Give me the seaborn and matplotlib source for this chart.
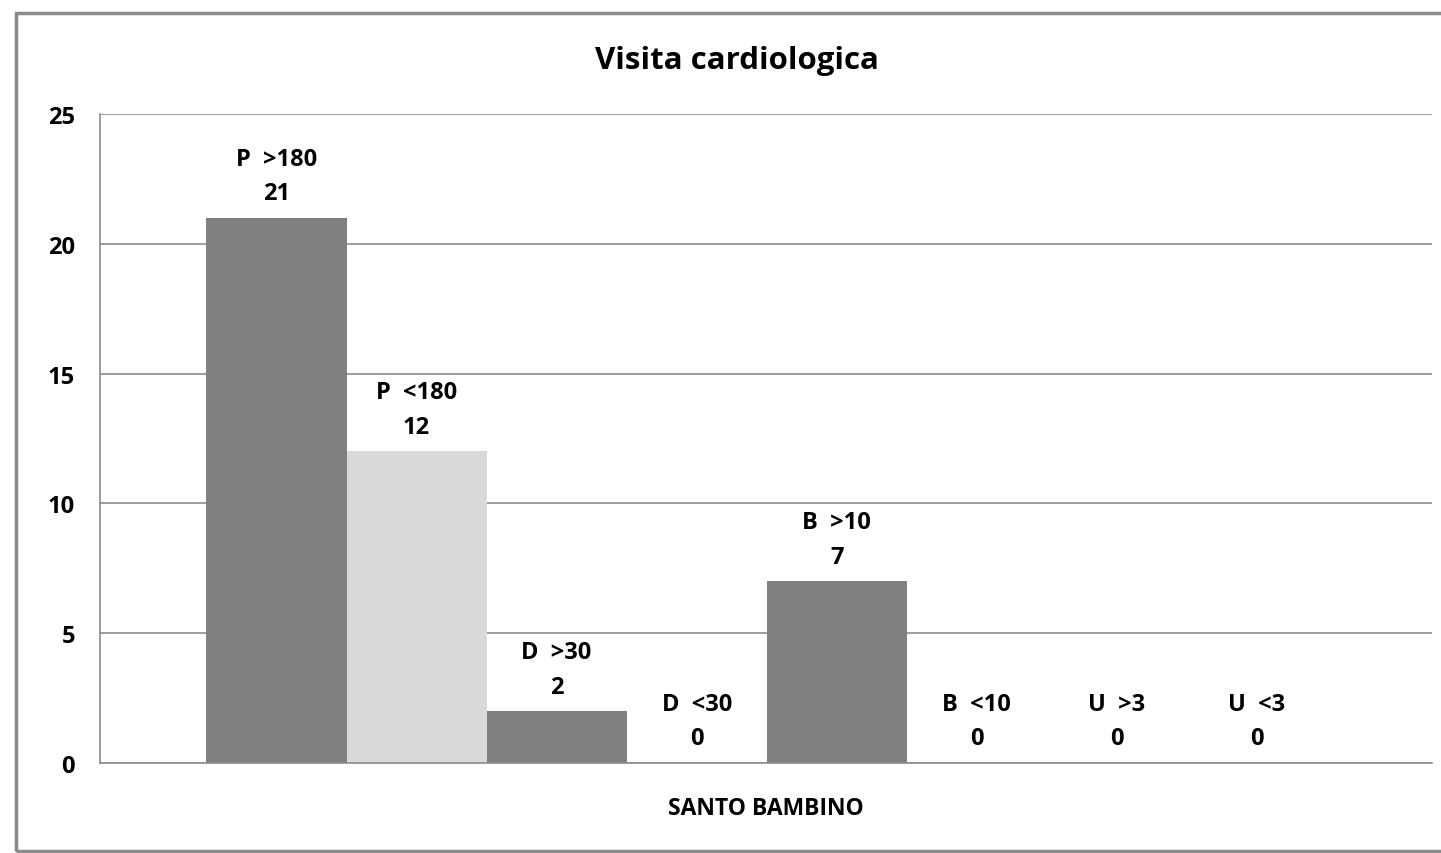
import pandas as pd
import matplotlib.pyplot as plt
from matplotlib.patches import Rectangle
import seaborn as sns

# Dati
categorie = ["P  >180", "P  <180", "D  >30", "D  <30", "B  >10", "B  <10", "U  >3", "U  <3"]
valori = [21, 12, 2, 0, 7, 0, 0, 0]
colori = ["#808080", "#d9d9d9", "#808080", "#808080", "#808080", "#808080", "#808080", "#808080"]
gruppo = "SANTO BAMBINO"
titolo = "Visita cardiologica"
y_ticks = [0, 5, 10, 15, 20, 25]

df = pd.DataFrame({"cat": categorie, "val": valori})

sns.set_style("white")
plt.rcParams["font.family"] = ["Open Sans", "DejaVu Sans"]
plt.rcParams["text.color"] = "black"
plt.rcParams["axes.labelcolor"] = "black"
plt.rcParams["ytick.labelcolor"] = "black"

fig = plt.figure(figsize=(14.41, 8.54), dpi=100)
ax = fig.add_axes([0.0694, 0.1054, 0.9243, 0.7599])

sns.barplot(data=df, x="cat", y="val", hue="cat", palette=colori,
            width=1.0, legend=False, ax=ax, linewidth=0, saturation=1)

# Etichette sopra le barre
for i, (c, v) in enumerate(zip(categorie, valori)):
    ax.annotate(f"{c}\n{v}", (i, v), xytext=(0, 9), textcoords="offset points",
                ha="center", va="bottom", fontsize=17, fontweight="bold",
                linespacing=1.6, color="black")

x0, x1 = -1.26, 8.25
ax.set_xlim(x0, x1)
ax.set_ylim(0, 25)
ax.set_yticks(y_ticks)
ax.set_yticklabels([str(t) for t in y_ticks], fontsize=17, fontweight="bold",
                   color="black")
ax.set_xticks([x0, x1])
ax.set_xticklabels(["", ""])
ax.set_xlabel(gruppo, fontsize=16.5, fontweight="bold", labelpad=13,
              color="black")
ax.set_ylabel("")

ax.yaxis.grid(True, color="#8c8c8c", linewidth=1.2)
ax.set_axisbelow(True)
for s in ["top", "right"]:
    ax.spines[s].set_visible(False)
for s in ["left", "bottom"]:
    ax.spines[s].set_color("#8c8c8c")
    ax.spines[s].set_linewidth(1.2)
ax.tick_params(axis="y", length=7, color="#8c8c8c", width=1.2, pad=11)
ax.tick_params(axis="x", length=7, color="#8c8c8c", width=1.2, direction="out")

fig.text(0.5115, 0.928, titolo, ha="center", va="center",
         fontsize=22.5, fontweight="bold", color="black")

# Cornice esterna del grafico
fig.patches.append(Rectangle((16 / 1441, 2 / 854), 1430 / 1441, 838 / 854,
                             transform=fig.transFigure, fill=False,
                             edgecolor="#8a8a8a", linewidth=2.5))

fig.savefig("out.png", dpi=100, facecolor="white")
plt.close(fig)
